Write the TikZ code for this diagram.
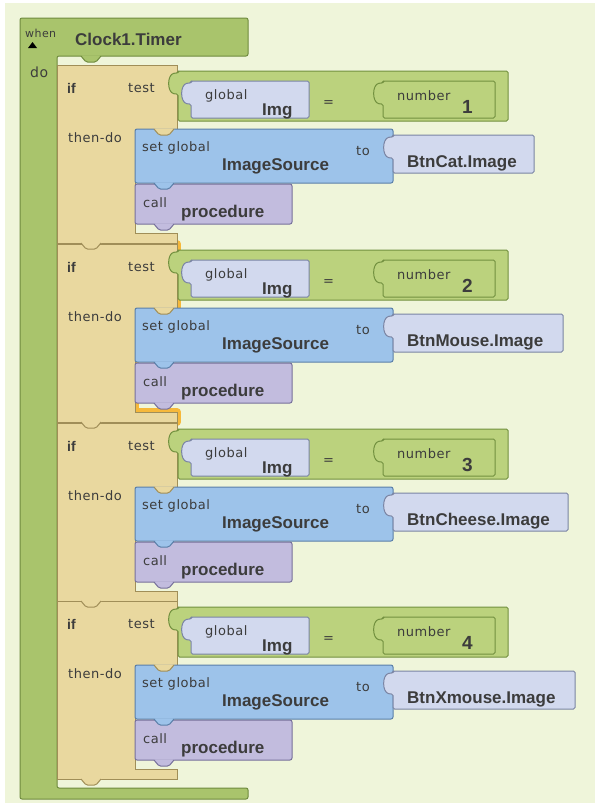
\documentclass[tikz,border=0pt]{standalone}
\usepackage{fontspec}
\setmainfont{Liberation Sans}
\newfontfamily\lblfont[LetterSpace=4]{DejaVu Sans}
\definecolor{bgc}{HTML}{EFF5DA}
\definecolor{grnA}{HTML}{A9C46C}
\definecolor{grnD}{HTML}{6F8B3E}
\definecolor{cmpA}{HTML}{BBD27D}
\definecolor{cmpD}{HTML}{72903F}
\definecolor{tanA}{HTML}{E9D89F}
\definecolor{tanD}{HTML}{A08E58}
\definecolor{bluA}{HTML}{9DC3EA}
\definecolor{bluD}{HTML}{5A7FA8}
\definecolor{lavA}{HTML}{D2D9EE}
\definecolor{lavD}{HTML}{7A84A3}
\definecolor{purA}{HTML}{C2BCDE}
\definecolor{purD}{HTML}{76709A}
\definecolor{glowc}{HTML}{F6B83A}
\definecolor{txt}{HTML}{3C3C3C}
\tikzset{
  outerblk/.style={fill=grnA, draw=grnD, line width=1pt, rounded corners=2pt},
  ifblk/.style={fill=tanA, draw=tanD, line width=1pt},
  cmpblk/.style={fill=cmpA, draw=cmpD, line width=1pt, rounded corners=1.5pt},
  lavblk/.style={fill=lavA, draw=lavD, line width=1pt, rounded corners=1.5pt},
  numblk/.style={fill=cmpA, draw=cmpD, line width=1pt, rounded corners=1.5pt},
  setblk/.style={fill=bluA, draw=bluD, line width=1pt, rounded corners=2pt},
  callblk/.style={fill=purA, draw=purD, line width=1pt, rounded corners=2pt},
  glow/.style={draw=glowc, line width=8pt, line join=round},
  lbl/.style={font=\lblfont\fontsize{13}{13}\selectfont, text=txt, inner sep=0pt, anchor=base west},
  big/.style={font=\bfseries\fontsize{17}{17}\selectfont, text=txt, inner sep=0pt, anchor=base west},
}
\newcommand\knobblock[5]{%
  \path[#5] (#1,#2) -- (#3,#2) -- (#3,#4) -- (#1,#4) -- (#1,#2+23) -- (#1-3,#2+23)
    .. controls (#1-11,#2+21) and (#1-11,#2+4) .. (#1-3,#2+2) -- (#1,#2+2) -- cycle;}
\newcommand\dtab[4]{%
  \fill[#3, rounded corners=1.5pt] (#1-1,#2-0.6) -- (#1+19,#2-0.6) -- (#1+19,#2) -- (#1+14,#2+6) -- (#1+4,#2+6) -- (#1-1,#2) -- cycle;
  \draw[#4, line width=1pt, rounded corners=1.5pt] (#1-1,#2) -- (#1+4,#2+6) -- (#1+14,#2+6) -- (#1+19,#2);}
\begin{document}
\begin{tikzpicture}[x=1pt,y=-1pt]
\useasboundingbox (0,0) rectangle (595,803);
\fill[white] (0,0) rectangle (595,803);
\fill[bgc] (5,3) rectangle (595,803);
% selection glow around the second if block
\draw[glow] (57,65+179) -- (177,65+179) -- (177,129+179) -- (135,129+179) -- (135,233+179) -- (177,233+179) -- (177,243+179) -- (57,243+179) -- cycle;
% outer when block
\draw[outerblk] (20,18) -- (248,18) -- (248,56) -- (57,56) -- (57,788) -- (248,788) -- (248,799) -- (20,799) -- cycle;
\node[lbl, font=\lblfont\fontsize{11}{11}\selectfont] (when) at (25,37) {when};
\fill[black] (28,48) -- (32.5,42) -- (37,48) -- cycle;
\node[big] (clock) at (75,45) {Clock1.Timer};
\node[lbl, font=\lblfont\fontsize{14}{14}\selectfont] (do) at (30,77) {do};
\foreach \d/\n/\val/\vx [count=\i] in {0/1/BtnCat.Image/534, 179/2/BtnMouse.Image/563, 358/3/BtnCheese.Image/568, 536/4/BtnXmouse.Image/575}{
  \draw[ifblk] (57,65+\d) -- (177,65+\d) -- (177,129+\d) -- (135,129+\d) -- (135,233+\d) -- (177,233+\d) -- (177,243+\d) -- (57,243+\d) -- cycle;
  \knobblock{178}{71+\d}{508}{121+\d}{cmpblk}
  \knobblock{191}{81+\d}{309}{118+\d}{lavblk}
  \knobblock{383}{81+\d}{495}{118+\d}{numblk}
  \draw[setblk] (135,129+\d) rectangle (393,183+\d);
  \knobblock{393}{135+\d}{\vx}{173+\d}{lavblk}
  \draw[callblk] (135,184+\d) rectangle (292,224+\d);
  \node[big, font=\bfseries\fontsize{14}{14}\selectfont] (if\i) at (67,93+\d) {if};
  \node[lbl] (test\i) at (128,92+\d) {test};
  \node[lbl] (then\i) at (68,142+\d) {then-do};
  \node[lbl] (glob\i) at (205,99+\d) {global};
  \node[big] (img\i) at (262,115+\d) {Img};
  \node[lbl] (eq\i) at (323,106+\d) {=};
  \node[lbl] (numl\i) at (397,100+\d) {number};
  \node[big, font=\bfseries\fontsize{19}{19}\selectfont] (num\i) at (462,113+\d) {\n};
  \node[lbl] (setg\i) at (142,151+\d) {set global};
  \node[big] (src\i) at (222,170+\d) {ImageSource};
  \node[lbl] (to\i) at (356,155+\d) {to};
  \node[big] (val\i) at (407,167+\d) {\val};
  \node[lbl] (call\i) at (143,207+\d) {call};
  \node[big] (proc\i) at (181,217+\d) {procedure};
}
% connection tabs
\dtab{82}{56}{grnA}{grnD}
\foreach \d in {0,179,358,536}{
  \dtab{155}{129+\d}{tanA}{tanD}
  \dtab{155}{183+\d}{bluA}{bluD}
  \dtab{155}{224+\d}{purA}{purD}
  \dtab{82}{243+\d}{tanA}{tanD}
}
\end{tikzpicture}
\end{document}
